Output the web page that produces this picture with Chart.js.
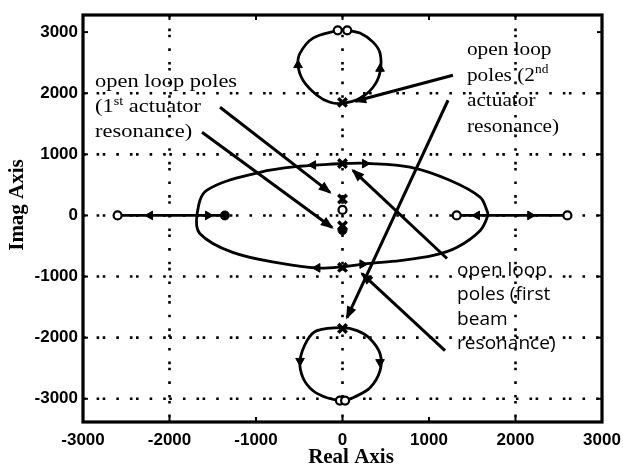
<!DOCTYPE html>
<html>
<head>
<meta charset="utf-8">
<script src="https://cdn.jsdelivr.net/npm/chart.js@4.4.1/dist/chart.umd.min.js"></script>
<style>
  html, body { margin: 0; padding: 0; background: #fff; }
  #wrap { width: 623px; height: 470px; }
</style>
</head>
<body>
<div id="wrap"><canvas id="rlocus"></canvas></div>
<script>
// Axis ticks and dotted grid positions
const realTicks = [-3000, -2000, -1000, 0, 1000, 2000, 3000];
const imagTicks = [-3000, -2000, -1000, 0, 1000, 2000, 3000];
const realGrid = [-2000, 0, 2000];
const imagGrid = [-3000, -2000, -1000, 0, 1000, 2000];

// Locus branch leaving the beam poles (closed oval)
const ovalRe = [0, 283, 780, 1240, 1590, 1670, 1680, 1590, 1320, 1050, 665, 283, 0, -295, -690, -1270, -1650, -1680, -1570, -955, -490, 0];
const ovalIm = [850, 852, 790, 575, 300, 80, 0, -250, -525, -655, -740, -790, -840, -860, -790, -605, -295, 30, 410, 705, 805, 850];

// Loops from the 2nd actuator poles to the zeros near +/-3000j
const upperRe = [-55, -341, -491, -514, -457, -295, -145, 6, 202, 353, 434, 434, 353, 202, 55];
const upperIm = [3030, 2902, 2656, 2459, 2213, 1967, 1852, 1836, 1918, 2098, 2344, 2656, 2836, 2984, 3030];
const lowerRe = [-30, -179, -341, -457, -491, -410, -295, 0, 168, 318, 434, 434, 318, 121, 30];
const lowerIm = [-3030, -2984, -2869, -2656, -2377, -2049, -1885, -1836, -1885, -2016, -2262, -2541, -2820, -2984, -3030];

// Real axis segments
const leftSegRe = [-2600, -1360];
const rightSegRe = [1320, 2600];

// Open loop poles (x) and zeros (o)
const poleRe = [0, 0, 0, 0, 0, 0];
const poleIm = [1850, 850, 270, -170, -850, -1850];
const zeroRe = [-55, 55, 0, -2600, 1320, 2600, -30, 30];
const zeroIm = [3030, 3030, 90, 0, 0, 0, -3030, -3030];
const dotRe = [-1360, 0];
const dotIm = [0, -240];

// Direction arrows along the branches (degrees, 0 = up)
const dirRe = [-2225, -1555, 1555, 2170, -340, 260, -290, 230, -514, 434, -491, 434];
const dirIm = [0, 0, 0, 0, 825, 848, -858, -797, 2460, 2400, -2380, -2400];
const dirAngle = [270, 90, 270, 90, 270, 90, 270, 90, 0, 0, 180, 180];

// Callout lines: from the note text to the poles
const calloutFromRe = [-1416, -1624, 1277, 1220, 1208, 1185];
const calloutFromIm = [1770, 1361, 2295, 1885, -705, -2213];
const calloutToRe = [-145, -121, 145, 52, 121, 225];
const calloutToIm = [377, -197, 1869, -1672, 738, -951];

// Notes ('^' wraps superscript text)
const noteRe = [-2860, 1439, 1324];
const noteIm = [2098, 2623, -984];
const noteLines = [
  ['open loop poles', '(1^st^ actuator', 'resonance)'],
  ['open loop', 'poles (2^nd^', 'actuator', 'resonance)'],
  ['open loop', 'poles (first', 'beam', 'resonance)']
];

const zip = (xs, ys) => xs.map((x, i) => ({ x, y: ys[i] }));

const lineSet = (pts, width) => ({
  data: pts,
  showLine: true,
  borderColor: '#000',
  borderWidth: width,
  pointRadius: 0,
  tension: 0.35,
  fill: false
});

const datasets = [
  {
    data: zip(dirRe, dirIm),
    pointStyle: 'triangle',
    pointRotation: dirAngle,
    pointRadius: 5,
    backgroundColor: '#000',
    borderColor: '#000',
    borderWidth: 1
  },
  {
    data: zip(poleRe, poleIm),
    pointStyle: 'crossRot',
    pointRadius: 6,
    borderColor: '#000',
    borderWidth: 3.5
  },
  {
    data: zip(zeroRe, zeroIm),
    pointStyle: 'circle',
    pointRadius: 4,
    backgroundColor: '#fff',
    borderColor: '#000',
    borderWidth: 2.2
  },
  {
    data: zip(dotRe, dotIm),
    pointStyle: 'circle',
    pointRadius: 4.5,
    backgroundColor: '#000',
    borderColor: '#000',
    borderWidth: 1
  },
  lineSet(zip(ovalRe, ovalIm), 2.8),
  lineSet(zip(upperRe, upperIm), 2.8),
  lineSet(zip(lowerRe, lowerIm), 2.8),
  lineSet(zip(leftSegRe, [0, 0]), 2.8),
  lineSet(zip(rightSegRe, [0, 0]), 2.8)
];

calloutFromRe.forEach((re, i) => {
  const ds = lineSet([{ x: re, y: calloutFromIm[i] }, { x: calloutToRe[i], y: calloutToIm[i] }], 3);
  ds.tension = 0;
  ds.callout = true;
  datasets.push(ds);
});

function strokeLine(ctx, x0, y0, x1, y1) {
  ctx.beginPath();
  ctx.moveTo(x0, y0);
  ctx.lineTo(x1, y1);
  ctx.stroke();
}

// Draws a line of text with ^superscript^ runs, stretched a little sideways
function drawRich(ctx, str, x, y, size, family, stretch) {
  ctx.save();
  ctx.translate(x, y);
  ctx.scale(stretch, 1);
  let cx = 0;
  str.split('^').forEach((part, i) => {
    const sup = i % 2 === 1;
    ctx.font = (sup ? Math.round(size * 0.62) : size) + 'px ' + family;
    ctx.fillText(part, cx, sup ? -size * 0.38 : 0);
    cx += ctx.measureText(part).width;
  });
  ctx.restore();
}

const decor = {
  id: 'decor',
  beforeDatasetsDraw(chart) {
    const { ctx, chartArea: a, scales: { x, y } } = chart;
    ctx.save();
    ctx.strokeStyle = '#000';
    ctx.lineWidth = 2.6;
    ctx.setLineDash([2.6, 11, 2.6, 3.5, 2.6, 11]);
    imagGrid.forEach(v => {
      const py = y.getPixelForValue(v);
      strokeLine(ctx, a.left, py, a.right, py);
    });
    realGrid.forEach(v => {
      const px = x.getPixelForValue(v);
      strokeLine(ctx, px, a.top, px, a.bottom);
    });
    ctx.setLineDash([]);
    // short inward ticks on all four sides
    ctx.lineWidth = 2;
    realTicks.forEach(v => {
      const px = x.getPixelForValue(v);
      strokeLine(ctx, px, a.top, px, a.top + 5);
      strokeLine(ctx, px, a.bottom, px, a.bottom - 5);
    });
    imagTicks.forEach(v => {
      const py = y.getPixelForValue(v);
      strokeLine(ctx, a.left, py, a.left + 5, py);
      strokeLine(ctx, a.right, py, a.right - 5, py);
    });
    ctx.restore();
  },
  afterDatasetsDraw(chart) {
    const { ctx, chartArea: a, scales: { x, y } } = chart;
    ctx.save();
    // frame
    ctx.strokeStyle = '#000';
    ctx.lineWidth = 3.2;
    ctx.strokeRect(a.left, a.top, a.right - a.left, a.bottom - a.top);

    // arrowheads at the end of each callout line
    ctx.fillStyle = '#000';
    chart.data.datasets.forEach((ds, i) => {
      if (!ds.callout) return;
      const pts = chart.getDatasetMeta(i).data;
      const p0 = pts[0], p1 = pts[1];
      const ang = Math.atan2(p1.y - p0.y, p1.x - p0.x);
      ctx.save();
      ctx.translate(p1.x, p1.y);
      ctx.rotate(ang);
      ctx.beginPath();
      ctx.moveTo(2, 0);
      ctx.lineTo(-11, -5);
      ctx.lineTo(-11, 5);
      ctx.closePath();
      ctx.fill();
      ctx.restore();
    });

    // notes
    ctx.textAlign = 'left';
    ctx.textBaseline = 'alphabetic';
    const fonts = [
      ['"Liberation Serif", serif', 19, 1.18, 25],
      ['"Liberation Serif", serif', 19, 1.12, 25.5],
      ['"Open Sans", sans-serif', 18, 1.06, 24.5]
    ];
    noteLines.forEach((lines, n) => {
      const [family, size, stretch, step] = fonts[n];
      const px = x.getPixelForValue(noteRe[n]);
      const py = y.getPixelForValue(noteIm[n]);
      lines.forEach((t, k) => drawRich(ctx, t, px, py + k * step, size, family, stretch));
    });

    // axis titles
    ctx.font = 'bold 21px "Liberation Serif", serif';
    ctx.textAlign = 'center';
    ctx.textBaseline = 'middle';
    ctx.fillText('Real Axis', 351, 458);
    ctx.save();
    ctx.translate(18, 205);
    ctx.rotate(-Math.PI / 2);
    ctx.fillText('Imag Axis', 0, 0);
    ctx.restore();
    ctx.restore();
  }
};

const tickFont = { family: '"Liberation Sans", Arial, sans-serif', size: 17, weight: 'bold' };
const plainNumber = v => String(v);

new Chart(document.getElementById('rlocus'), {
  type: 'scatter',
  data: { datasets },
  options: {
    responsive: true,
    maintainAspectRatio: false,
    animation: false,
    layout: { padding: { top: 15, right: 21, left: 0, bottom: 0 } },
    plugins: { legend: { display: false }, tooltip: { enabled: false } },
    scales: {
      x: {
        type: 'linear',
        min: -3000,
        max: 3000,
        afterBuildTicks: s => { s.ticks = realTicks.map(v => ({ value: v })); },
        afterFit: s => { s.height = 48; s.paddingLeft = 0; s.paddingRight = 0; },
        grid: { display: false, drawTicks: false },
        border: { display: false },
        ticks: { color: '#000', font: tickFont, padding: 8, maxRotation: 0, callback: plainNumber }
      },
      y: {
        type: 'linear',
        min: -3380,
        max: 3280,
        afterBuildTicks: s => { s.ticks = imagTicks.map(v => ({ value: v })); },
        afterFit: s => { s.width = 83; s.paddingTop = 0; s.paddingBottom = 0; },
        grid: { display: false, drawTicks: false },
        border: { display: false },
        ticks: { color: '#000', font: tickFont, padding: 5, callback: plainNumber }
      }
    }
  },
  plugins: [decor]
});
</script>
</body>
</html>
